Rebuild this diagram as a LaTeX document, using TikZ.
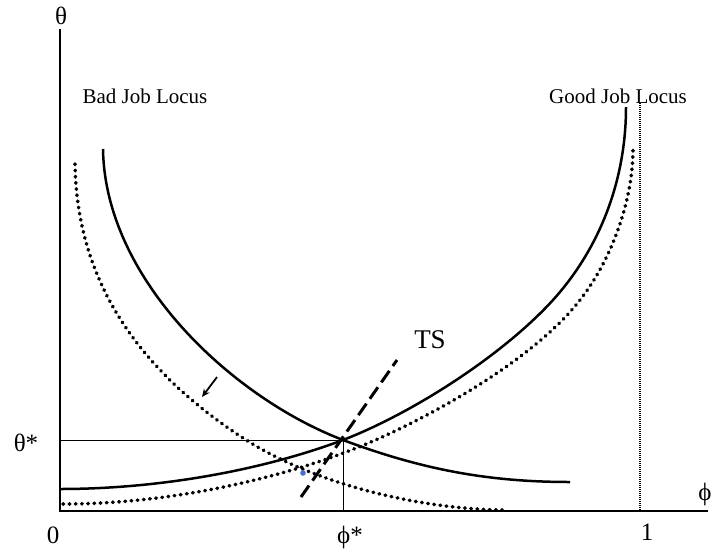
\documentclass[tikz,border=0pt]{standalone}
\usepackage{fontspec}
\setmainfont{Liberation Serif}
\usetikzlibrary{arrows.meta}
\definecolor{dotblue}{RGB}{70,110,205}

\begin{document}
\begin{tikzpicture}[x=1pt, y=-1pt,
    axis/.style={draw=black, line width=1.2pt},
    guide/.style={draw=black, line width=0.9pt},
    locus/.style={draw=black, line width=2.5pt},
    shifted/.style={draw=black, line width=3.6pt, line cap=round,
                    dash pattern=on 0.6pt off 5.6pt},
    label/.style={font=\fontsize{25}{28}\selectfont, inner sep=0pt},
    tag/.style={font=\fontsize{21}{24}\selectfont, inner sep=0pt},
]
\useasboundingbox (0,0) rectangle (712,552);

% Ejes
\draw[axis] (60,29) -- (60,511) -- (708,511);
\draw[line width=1.3pt, dash pattern=on 1.4pt off 0.6pt] (640,103) -- (640,511);

% Lineas guia
\draw[guide] (60,440) -- (343,440) -- (343,511);

% Bad Job Locus
\draw[locus] (103,149) .. controls (105,280) and (233,398) .. (343,440)
    .. controls (423,470) and (490,482) .. (570,482);
\draw[shifted] (75,164) .. controls (77,290) and (148,376) .. (243,438)
    .. controls (320,488) and (430,510) .. (507,510);

% Good Job Locus
\draw[locus] (60,489) .. controls (160,489) and (263,470) .. (343,440)
    .. controls (413,413) and (503,355) .. (553,300)
    .. controls (600,248) and (626,180) .. (626,107);
\draw[shifted] (63,504) .. controls (180,504) and (300,474) .. (380,438)
    .. controls (440,411) and (535,358) .. (580,300)
    .. controls (612,259) and (633,200) .. (633,149);

% TS
\draw[line width=3pt, dash pattern=on 14pt off 6pt] (301,497) -- (397,360);
\node[label, font=\fontsize{27}{30}\selectfont] (ts) at (430,340) {TS};

% Desplazamiento
\coordinate (from) at (217,377);
\coordinate (to) at (202,397);
\draw[line width=1.8pt, -{Stealth[length=8pt, width=7pt]}] (from) -- (to);
\fill[dotblue] (303,473) circle (2.8);

% Etiquetas
\node[label] (theta) at (61,16) {θ};
\node[label] (phi) at (705,494) {ϕ};
\node[label] (zero) at (53,535) {0};
\node[label] (one) at (647,532) {1};
\node[label] (phistar) at (350,537) {ϕ*};
\node[label] (thetastar) at (26,443) {θ*};
\node[tag, anchor=base] (bad) at (145,103) {Bad Job Locus};
\node[tag, anchor=base] (good) at (618,103) {Good Job Locus};

\end{tikzpicture}
\end{document}
